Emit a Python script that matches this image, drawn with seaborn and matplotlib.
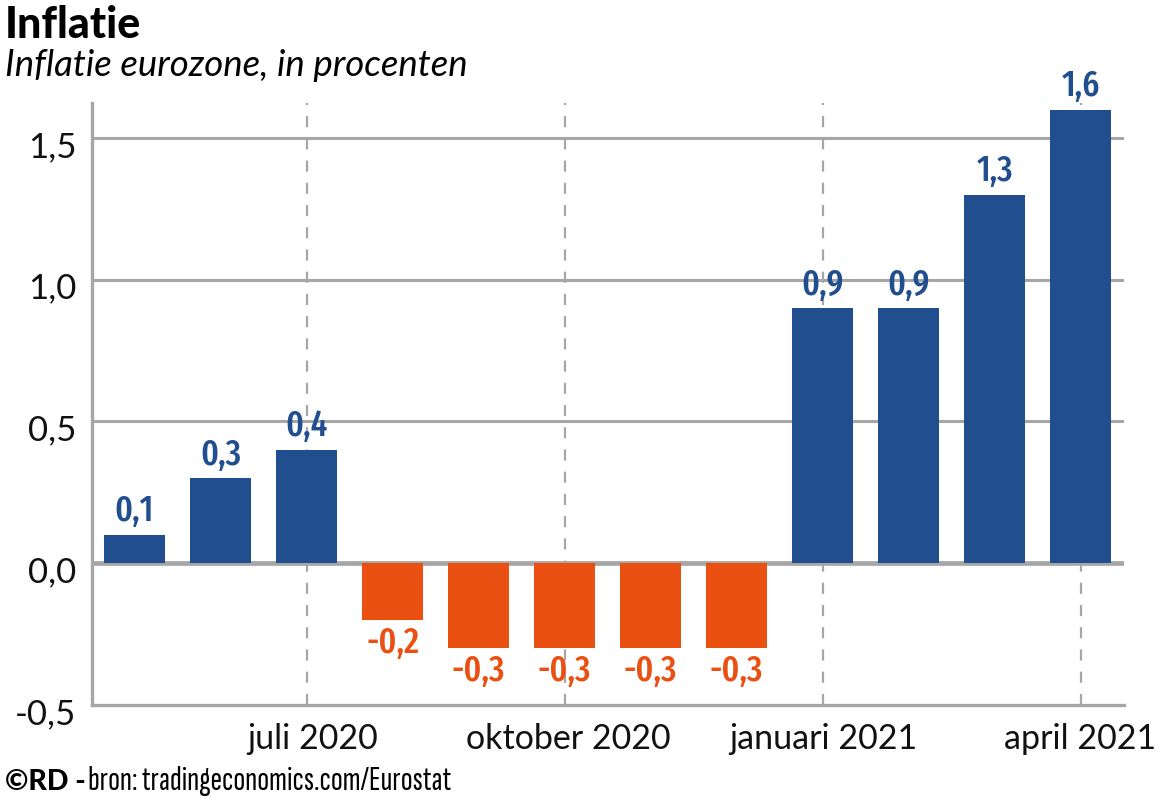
import matplotlib
matplotlib.use("Agg")
import matplotlib.pyplot as plt
from matplotlib.transforms import ScaledTranslation
import pandas as pd
import seaborn as sns

# Data
months = ["mei 2020", "juni 2020", "juli 2020", "augustus 2020", "september 2020", "oktober 2020",
          "november 2020", "december 2020", "januari 2021", "februari 2021", "maart 2021", "april 2021"]
inflation = [0.1, 0.3, 0.4, -0.2, -0.3, -0.3, -0.3, -0.3, 0.9, 0.9, 1.3, 1.6]
y_ticks = [-0.5, 0.0, 0.5, 1.0, 1.5]
x_tick_months = ["juli 2020", "oktober 2020", "januari 2021", "april 2021"]

BLUE = "#204e8f"
ORANGE = "#e95011"
GREY = "#a6a6a6"
W, H = 1168, 798

sns.set_theme(style="white")
plt.rcParams["font.family"] = ["Lato", "DejaVu Sans"]
NARROW = ["Fira Sans Extra Condensed", "Fira Sans Condensed", "DejaVu Sans"]
NARROWER = ["Sofia Sans Extra Condensed", "Fira Sans Extra Condensed", "DejaVu Sans"]

df = pd.DataFrame({"month": months, "value": inflation})
df["sign"] = ["pos" if v >= 0 else "neg" for v in inflation]

fig = plt.figure(figsize=(W / 100, H / 100), dpi=100)
ax = fig.add_axes([91.5 / W, 1 - 705 / H, (1123.5 - 91.5) / W, (705 - 103) / H])

sns.barplot(data=df, x="month", y="value", hue="sign", hue_order=["pos", "neg"],
            palette={"pos": BLUE, "neg": ORANGE}, dodge=False, width=0.72,
            saturation=1, legend=False, ax=ax, zorder=3, linewidth=0)

ax.set_xlim(-0.5, 11.5)
ax.set_ylim(-0.5, 1.623)
ax.set_xlabel("")
ax.set_ylabel("")

# Grid
ax.set_axisbelow(True)
for t in y_ticks[2:]:
    ax.axhline(t, color=GREY, lw=2.2, zorder=1)
for m in x_tick_months:
    ax.axvline(months.index(m), color=GREY, lw=1.6, dashes=(5, 5), zorder=1)
ax.axhline(0, color=GREY, lw=3.4, zorder=2)

ax.set_yticks(y_ticks)
ax.set_yticklabels([f"{t:.1f}".replace(".", ",") for t in y_ticks], fontsize=25, color="#111111")
ax.set_xticks([months.index(m) for m in x_tick_months])
ax.set_xticklabels(x_tick_months, fontsize=24.5, color="#111111")
ax.tick_params(axis="both", length=0)
ax.tick_params(axis="y", pad=11)
ax.tick_params(axis="x", pad=13)

# tick labels sit a bit off the gridlines in the original
shift = ScaledTranslation(0, -6 / 100, fig.dpi_scale_trans)
for lab in ax.get_yticklabels():
    lab.set_transform(lab.get_transform() + shift)
for lab, dx in zip(ax.get_xticklabels(), [6, 4, 1, 0]):
    lab.set_transform(lab.get_transform() + ScaledTranslation(dx / 100, 0, fig.dpi_scale_trans))

sns.despine(ax=ax, top=True, right=True)
for side in ["left", "bottom"]:
    ax.spines[side].set_color(GREY)
    ax.spines[side].set_linewidth(2.4)

# Value labels
for container, col in zip(ax.containers, [BLUE, ORANGE]):
    ax.bar_label(container, fmt=lambda v: f"{v:.1f}".replace(".", ","), padding=4,
                 fontsize=26, fontweight="medium", color=col, family=NARROW)

# Titles and source
fig.text(5 / W, 1 - 38 / H, "Inflatie", fontsize=31, fontweight="black", color="black")
fig.text(5 / W, 1 - 76 / H, "Inflatie eurozone, in procenten", fontsize=26.4, style="italic", color="black")
fig.text(5 / W, 1 - 790 / H, "©RD -", fontsize=20.5, fontweight="black", color="black")
fig.text(88 / W, 1 - 790 / H, "bron: tradingeconomics.com/Eurostat", fontsize=25, color="black", family=NARROWER)

fig.savefig("out.png", dpi=100)
